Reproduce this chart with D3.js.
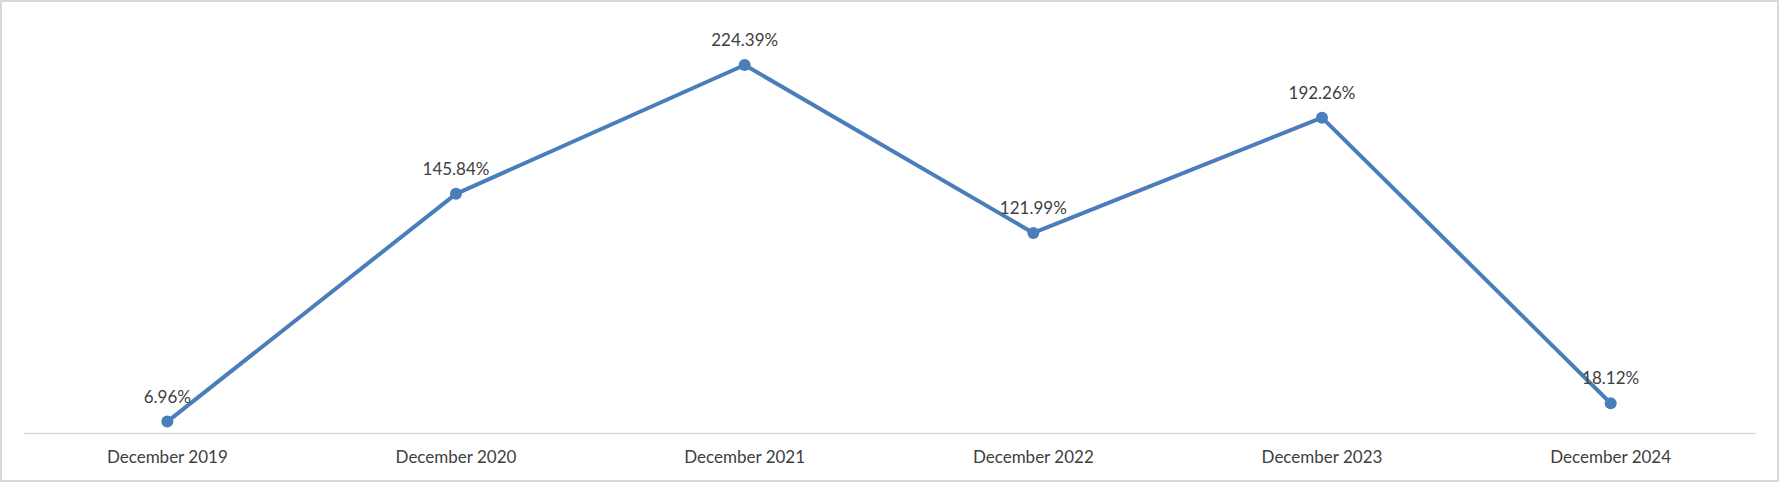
<!DOCTYPE html>
<html>
<head>
<meta charset="utf-8">
<script src="https://cdn.jsdelivr.net/npm/d3@7/dist/d3.min.js"></script>
<style>
  html, body { margin: 0; padding: 0; background: #fff; }
  svg { display: block; }
  text { font-family: Lato, "Open Sans", sans-serif; fill: #404040; }
</style>
</head>
<body>
<svg id="chart" width="1779" height="482"></svg>
<script>
const categories = ["December 2019", "December 2020", "December 2021", "December 2022", "December 2023", "December 2024"];
const values = [6.96, 145.84, 224.39, 121.99, 192.26, 18.12];
const valueLabels = ["6.96%", "145.84%", "224.39%", "121.99%", "192.26%", "18.12%"];
const yDomain = [0, 250];

const W = 1779, H = 482;
const margin = { left: 23, right: 24, top: 23, bottom: 49 };
const svg = d3.select("#chart");

svg.append("rect")
  .attr("x", 1).attr("y", 1)
  .attr("width", W - 2).attr("height", H - 2)
  .attr("fill", "#fff")
  .attr("stroke", "#d9d9d9")
  .attr("stroke-width", 2);

const x = d3.scaleBand()
  .domain(categories)
  .range([margin.left, W - margin.right])
  .paddingInner(0).paddingOuter(0);

const y = d3.scaleLinear()
  .domain(yDomain)
  .range([H - margin.bottom, margin.top]);

const cx = d => x(d) + x.bandwidth() / 2;

// x axis
const xAxis = d3.axisBottom(x).tickSize(0).tickPadding(0);
const gx = svg.append("g")
  .attr("transform", `translate(0,${y(0)})`)
  .call(xAxis);
gx.select(".domain").attr("stroke", "#d9d9d9").attr("stroke-width", 1.3);
gx.selectAll("text")
  .attr("dy", null)
  .attr("y", 30)
  .attr("font-size", 17)
  .style("font-family", "Lato, 'Open Sans', sans-serif")
  .attr("fill", "#404040");

const data = categories.map((c, i) => ({ c, v: values[i], l: valueLabels[i] }));

const line = d3.line()
  .x(d => cx(d.c))
  .y(d => y(d.v));

svg.append("path")
  .datum(data)
  .attr("d", line)
  .attr("fill", "none")
  .attr("stroke", "#4a7ebb")
  .attr("stroke-width", 4)
  .attr("stroke-linejoin", "round");

svg.selectAll("circle.pt")
  .data(data)
  .join("circle")
  .attr("class", "pt")
  .attr("cx", d => cx(d.c))
  .attr("cy", d => y(d.v))
  .attr("r", 6)
  .attr("fill", "#4a7ebb");

svg.selectAll("text.lbl")
  .data(data)
  .join("text")
  .attr("class", "lbl")
  .attr("x", d => cx(d.c))
  .attr("y", d => y(d.v) - 25)
  .attr("dy", "0.35em")
  .attr("text-anchor", "middle")
  .attr("font-size", 17)
  .text(d => d.l);
</script>
</body>
</html>
